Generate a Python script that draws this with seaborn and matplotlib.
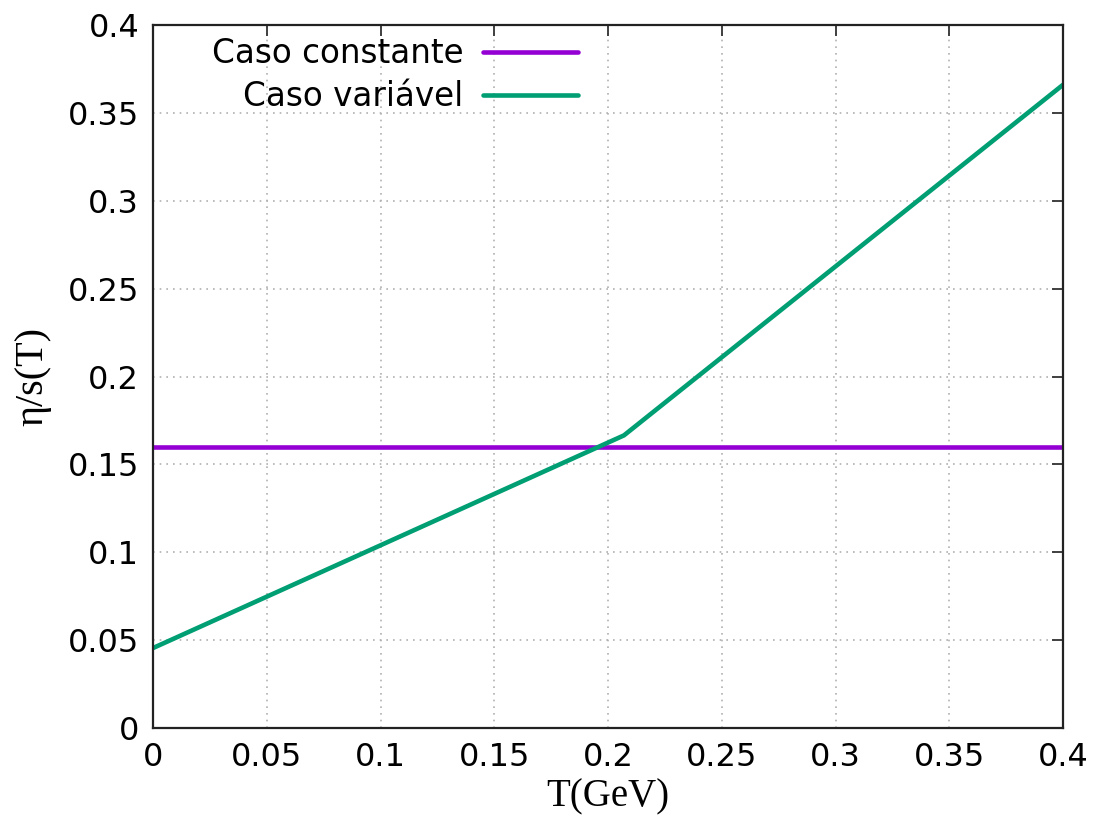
import matplotlib
matplotlib.use("Agg")
import matplotlib.pyplot as plt
import seaborn as sns
import pandas as pd

# Temperature (GeV) and shear viscosity to entropy ratio
T_const = [0.0, 0.4]
eta_const = [0.16, 0.16]

T_var = [0.0, 0.207, 0.4]
eta_var = [0.0455, 0.1665, 0.366]

labels = ["Caso constante", "Caso variável"]
colors = ["#9400D3", "#009E73"]

xticks = [0, 0.05, 0.1, 0.15, 0.2, 0.25, 0.3, 0.35, 0.4]
xticklabels = ["0", "0.05", "0.1", "0.15", "0.2", "0.25", "0.3", "0.35", "0.4"]
yticks = [0, 0.05, 0.1, 0.15, 0.2, 0.25, 0.3, 0.35, 0.4]
yticklabels = ["0", "0.05", "0.1", "0.15", "0.2", "0.25", "0.3", "0.35", "0.4"]

sns.set_style("white")
plt.rcParams["font.family"] = ["DejaVu Sans"]
plt.rcParams["text.color"] = "black"
plt.rcParams["xtick.color"] = "black"
plt.rcParams["ytick.color"] = "black"
plt.rcParams["axes.labelcolor"] = "black"

fig = plt.figure(figsize=(11.05, 8.21), dpi=100)
ax = fig.add_axes([0.1385, 0.1133, 0.8235, 0.8562])

df_const = pd.DataFrame({"T": T_const, "eta": eta_const})
df_var = pd.DataFrame({"T": T_var, "eta": eta_var})

sns.lineplot(data=df_const, x="T", y="eta", ax=ax, color=colors[0],
             linewidth=3.3, label=labels[0])
sns.lineplot(data=df_var, x="T", y="eta", ax=ax, color=colors[1],
             linewidth=3.3, label=labels[1])

ax.set_xlim(0, 0.4)
ax.set_ylim(0, 0.4)
ax.set_xticks(xticks)
ax.set_xticklabels(xticklabels)
ax.set_yticks(yticks)
ax.set_yticklabels(yticklabels)

ax.grid(True, linestyle=(0, (1, 3)), color="#b0b0b0", linewidth=1.2)
ax.tick_params(direction="in", top=True, right=True, length=8, width=1.3,
               labelsize=23, color="#333333", pad=10)
for s in ax.spines.values():
    s.set_color("#222222")
    s.set_linewidth(1.6)

ax.set_xlabel("T(GeV)", fontsize=28, family=["Liberation Serif"], labelpad=4)
ax.set_ylabel("η/s(T)", fontsize=29, family=["Liberation Serif"], labelpad=12)

leg = ax.legend(loc="upper right", frameon=False, markerfirst=False,
                fontsize=23.5, handlelength=2.9, handletextpad=0.6,
                borderaxespad=0.0, borderpad=0.15, labelspacing=0.32,
                bbox_to_anchor=(0.472, 0.99))
for t in leg.get_texts():
    t.set_ha("right")
leg._legend_box.align = "right"

fig.savefig("out.png", dpi=100)
